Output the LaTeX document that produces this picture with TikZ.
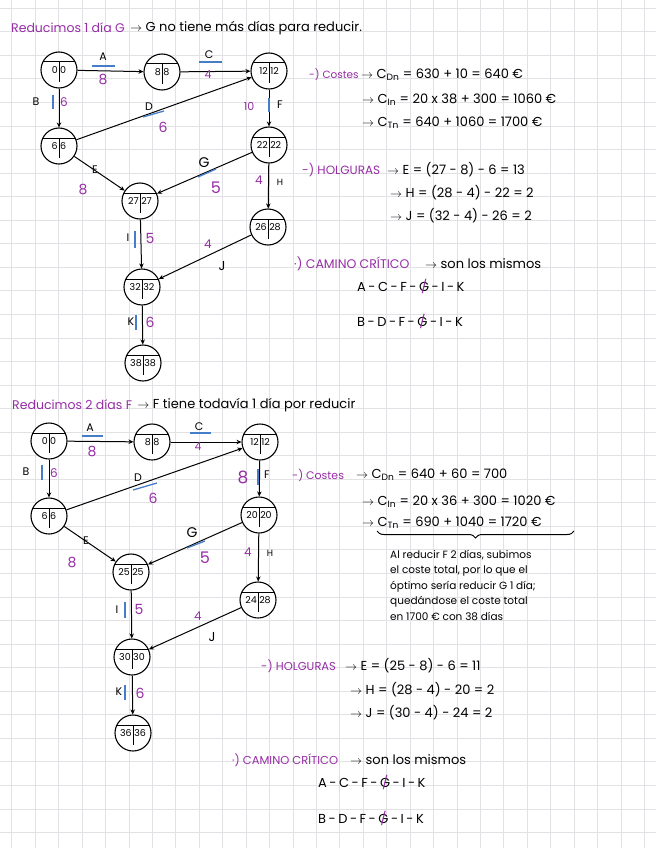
\documentclass[tikz,border=0pt]{standalone}
\usepackage{amsmath,amssymb}
\usepackage{xcolor}
\usepackage{fontspec}
\setmainfont{Poppins}
\usepackage{tikz}
\usetikzlibrary{arrows.meta,positioning,calc,decorations.pathreplacing}

\definecolor{morado}{RGB}{150,45,165}
\definecolor{azul}{RGB}{70,125,200}
\definecolor{cuadro}{RGB}{226,226,230}

\newcommand{\flecha}{$\rightarrow$}
\newcommand{\tachG}{\ooalign{G\cr\hidewidth\textcolor{morado}{/}\hidewidth\cr}}
\newcommand{\guion}{\hspace{2.5pt}-\hspace{2.5pt}}
\newcommand{\tiempos}[2]{\makebox[14pt][r]{#1}\hspace{2.5pt}\makebox[14pt][l]{#2}}

\tikzset{
suceso/.style={circle,draw,line width=1.1pt,minimum size=36pt,inner sep=0pt,fill=white,
  font=\fontsize{9.5}{9.5}\selectfont,
  path picture={
    \draw[line width=1pt]($(path picture bounding box.center)+(-20pt,8pt)$)--++(40pt,0pt);
    \draw[line width=1pt]($(path picture bounding box.center)+(0pt,8pt)$)--++(0pt,-20pt);}},
flechas/.style={-{Stealth[length=5pt,width=4.5pt]},line width=1pt},
act/.style={font=\fontsize{11}{11}\selectfont},
dur/.style={text=morado,font=\fontsize{14}{14}\selectfont},
critica/.style={azul,line width=1.3pt},
texto/.style={anchor=west,inner sep=0pt,font=\fontsize{13}{15}\selectfont},
titulo/.style={texto,text=morado,font=\fontsize{12.5}{14}\selectfont},
}

\begin{document}
\begin{tikzpicture}[>=Stealth,x=1pt,y=-1pt]
\useasboundingbox (0,0) rectangle (656,848);
\fill[white] (0,0) rectangle (656,848);
% papel cuadriculado
\foreach \k in {0,...,27}
  \draw[cuadro,line width=0.8pt] ({11.8+\k*23.43},0)--++(0,848);
\foreach \k in {0,...,35}
  \draw[cuadro,line width=0.8pt] (0,{8.2+\k*23.55})--++(656,0);

% ---------- reducimos 1 dia G ----------
\node[titulo] (tit1) at (11,28) {Reducimos 1 día G};
\node[texto,right=5pt of tit1] (tit1b) {\flecha\ G no tiene más días para reducir.};

\node[suceso] (n0) at (59,70) {\tiempos{0}{0}};
\node[suceso] (n1) at (162,72) {\tiempos{8}{8}};
\node[suceso] (n2) at (269,71) {\tiempos{12}{12}};
\node[suceso] (n3) at (59,146) {\tiempos{6}{6}};
\node[suceso] (n4) at (269,145) {\tiempos{22}{22}};
\node[suceso] (n5) at (140,201) {\tiempos{27}{27}};
\node[suceso] (n6) at (268,227) {\tiempos{26}{28}};
\node[suceso] (n7) at (142,287) {\tiempos{32}{32}};
\node[suceso] (n8) at (143,363) {\tiempos{38}{38}};

\draw[flechas] (n0)--(n1);
\draw[flechas] (n1)--(n2);
\draw[flechas] (n0)--(n3);
\draw[flechas] (n3)--(n2);
\draw[flechas] (n2)--(n4);
\draw[flechas] (n3)--(n5);
\draw[flechas] (n4)--(n5);
\draw[flechas] (n4)--(n6);
\draw[flechas] (n5)--(n7);
\draw[flechas] (n6)--(n7);
\draw[flechas] (n7)--(n8);

% actividades y duraciones
\node[act] (la1) at (103,57) {A}; \node[dur] (da1) at (103,80) {8};
\node[act] (lc1) at (209,55) {C}; \node[dur,font=\fontsize{11}{11}\selectfont] (dc1) at (208,75) {4};
\node[act] (lb1) at (36,102) {B}; \node[dur,font=\fontsize{12}{12}\selectfont] (db1) at (64,102) {6};
\node[act] (ld1) at (149,107) {D}; \node[dur] (dd1) at (163,127) {6};
\node[dur,font=\fontsize{11}{11}\selectfont] (df1) at (249,106) {10}; \node[act] (lf1) at (280,105) {F};
\node[act] (le1) at (95,170) {E}; \node[dur] (de1) at (83,190) {8};
\node[act,font=\fontsize{14}{14}\selectfont] (lg1) at (204,163) {G}; \node[dur,font=\fontsize{16}{16}\selectfont] (dg1) at (216,188) {5};
\node[dur,font=\fontsize{12}{12}\selectfont] (dh1) at (259,180) {4}; \node[act,font=\fontsize{9}{9}\selectfont] (lh1) at (280,182) {H};
\node[act] (li1) at (128,238) {I}; \node[dur] (di1) at (150,238) {5};
\node[dur,font=\fontsize{12}{12}\selectfont] (dj1) at (208,244) {4}; \node[act,font=\fontsize{13}{13}\selectfont] (lj1) at (222,266) {J};
\node[act] (lk1) at (131,322) {K}; \node[dur] (dk1) at (150,322) {6};

% actividades criticas
\draw[critica] (92,66)--(115,66);
\draw[critica] (199,62)--(222,62);
\draw[critica] (53,95)--(53,109);
\draw[critica] (143,117)--(164,111);
\draw[critica] (269,98)--(269,112);
\draw[critica] (198,177)--(216,169);
\draw[critica] (135,231)--(135,248);
\draw[critica] (136,315)--(136,330);

% costes
\node[titulo,font=\fontsize{10.5}{13}\selectfont] (cos1) at (309,75) {-) Costes};
\node[texto] (cd1) at (361,75) {\flecha\ C\textsubscript{Dn} = 630 + 10 = 640 €};
\node[texto] (ci1) at (362,100) {\flecha\ C\textsubscript{In} = 20 x 38 + 300 = 1060 €};
\node[texto] (ct1) at (362,123) {\flecha\ C\textsubscript{Tn} = 640 + 1060 = 1700 €};

% holguras
\node[titulo,font=\fontsize{12}{14}\selectfont] (hol1) at (302,170) {-) HOLGURAS};
\node[texto] (he1) at (387,170) {\flecha\ E = (27 - 8) - 6 = 13};
\node[texto] (hh1) at (390,193) {\flecha\ H = (28 - 4) - 22 = 2};
\node[texto] (hj1) at (390,216) {\flecha\ J = (32 - 4) - 26 = 2};

% camino critico
\node[titulo,font=\fontsize{12.5}{14}\selectfont] (cam1) at (294,264) {·) CAMINO CRÍTICO};
\node[texto] (mis1) at (425,264) {\flecha\ son los mismos};
\node[texto] (ca1) at (357,288) {A\guion C\guion F\guion\tachG\guion I\guion K};
\node[texto] (cb1) at (357,323) {B\guion D\guion F\guion\tachG\guion I\guion K};

% ---------- reducimos 2 dias F ----------
\node[titulo] (tit2) at (12,405) {Reducimos 2 días F};
\node[texto,right=5pt of tit2] (tit2b) {\flecha\ F tiene todavía 1 día por reducir};

\node[suceso] (m0) at (49,441) {\tiempos{0}{0}};
\node[suceso] (m1) at (152,442) {\tiempos{8}{8}};
\node[suceso] (m2) at (260,442) {\tiempos{12}{12}};
\node[suceso] (m3) at (49,516) {\tiempos{6}{6}};
\node[suceso] (m4) at (259,515) {\tiempos{20}{20}};
\node[suceso] (m5) at (131,572) {\tiempos{25}{25}};
\node[suceso] (m6) at (258,600) {\tiempos{24}{28}};
\node[suceso] (m7) at (132,657) {\tiempos{30}{30}};
\node[suceso] (m8) at (133,733) {\tiempos{36}{36}};

\draw[flechas] (m0)--(m1);
\draw[flechas] (m1)--(m2);
\draw[flechas] (m0)--(m3);
\draw[flechas] (m3)--(m2);
\draw[flechas] (m2)--(m4);
\draw[flechas] (m3)--(m5);
\draw[flechas] (m4)--(m5);
\draw[flechas] (m4)--(m6);
\draw[flechas] (m5)--(m7);
\draw[flechas] (m6)--(m7);
\draw[flechas] (m7)--(m8);

\node[act] (la2) at (90,428) {A}; \node[dur] (da2) at (92,451) {8};
\node[act] (lc2) at (199,427) {C}; \node[dur,font=\fontsize{11}{11}\selectfont] (dc2) at (198,447) {4};
\node[act] (lb2) at (26,472) {B}; \node[dur,font=\fontsize{12}{12}\selectfont] (db2) at (54,473) {6};
\node[act] (ld2) at (138,478) {D}; \node[dur] (dd2) at (153,498) {6};
\node[dur,font=\fontsize{17}{17}\selectfont] (df2) at (243,477) {8}; \node[act] (lf2) at (267,475) {F};
\node[act] (le2) at (86,541) {E}; \node[dur] (de2) at (72,562) {8};
\node[act,font=\fontsize{14}{14}\selectfont] (lg2) at (192,533) {G}; \node[dur,font=\fontsize{16}{16}\selectfont] (dg2) at (205,558) {5};
\node[dur,font=\fontsize{12}{12}\selectfont] (dh2) at (248,552) {4}; \node[act,font=\fontsize{9}{9}\selectfont] (lh2) at (270,553) {H};
\node[act] (li2) at (117,610) {I}; \node[dur] (di2) at (139,609) {5};
\node[dur,font=\fontsize{12}{12}\selectfont] (dj2) at (198,616) {4}; \node[act,font=\fontsize{13}{13}\selectfont] (lj2) at (212,637) {J};
\node[act] (lk2) at (119,692) {K}; \node[dur] (dk2) at (140,693) {6};

\draw[critica] (82,436)--(103,436);
\draw[critica] (190,433)--(211,433);
\draw[critica] (42,465)--(42,480);
\draw[critica] (133,490)--(157,483);
\draw[critica] (258,469)--(258,485);
\draw[critica] (187,548)--(205,541);
\draw[critica] (125,602)--(125,618);
\draw[critica] (125,685)--(125,700);

% costes
\node[titulo,font=\fontsize{11}{13}\selectfont] (cos2) at (292,475) {-) Costes};
\node[texto] (cd2) at (356,475) {\flecha\ C\textsubscript{Dn} = 640 + 60 = 700};
\node[texto] (ci2) at (362,502) {\flecha\ C\textsubscript{In} = 20 x 36 + 300 = 1020 €};
\node[texto] (ct2) at (362,523) {\flecha\ C\textsubscript{Tn} = 690 + 1040 = 1720 €};
\draw[line width=1pt,decorate,decoration={brace,mirror,amplitude=7pt}] (377,531)--(574,531);
\node[anchor=north west,inner sep=0pt,align=left,font=\fontsize{10.5}{15.5}\selectfont] (nota) at (390,550)
  {Al reducir F 2 días, subimos\\el coste total, por lo que el\\óptimo sería reducir G 1 día;\\quedándose el coste total\\en 1700 € con 38 días};

% holguras
\node[titulo,font=\fontsize{11.5}{14}\selectfont] (hol2) at (261,666) {-) HOLGURAS};
\node[texto] (he2) at (345,666) {\flecha\ E = (25 - 8) - 6 = 11};
\node[texto] (hh2) at (350,690) {\flecha\ H = (28 - 4) - 20 = 2};
\node[texto] (hj2) at (350,713) {\flecha\ J = (30 - 4) - 24 = 2};

% camino critico
\node[titulo,font=\fontsize{11.5}{14}\selectfont] (cam2) at (232,760) {·) CAMINO CRÍTICO};
\node[texto] (mis2) at (350,760) {\flecha\ son los mismos};
\node[texto] (ca2) at (318,784) {A\guion C\guion F\guion\tachG\guion I\guion K};
\node[texto] (cb2) at (318,820) {B\guion D\guion F\guion\tachG\guion I\guion K};
\end{tikzpicture}
\end{document}
